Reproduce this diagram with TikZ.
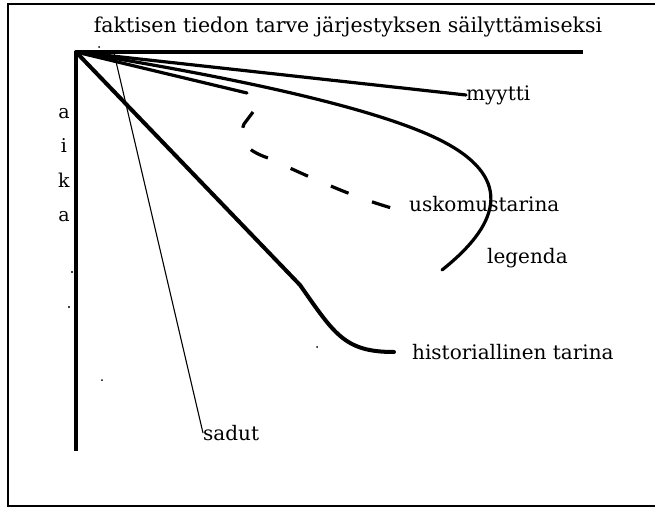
\documentclass[tikz,border=0pt]{standalone}
\usepackage{fontspec}
\setmainfont{DejaVu Serif}
\usetikzlibrary{positioning}

\begin{document}
\begin{tikzpicture}[
    x=1pt, y=-1pt,
    frame_line/.style={line width=2.2pt},
    axis_line/.style={line width=3.2pt},
    thick_curve/.style={line width=3.2pt, line cap=round},
    thin_curve/.style={line width=1.1pt},
    curve_label/.style={font=\fontsize{20}{24}\selectfont, inner sep=0pt, anchor=west},
    title_text/.style={font=\fontsize{20.5}{24}\selectfont, inner sep=0pt},
    aika_text/.style={font=\fontsize{19}{34.5}\selectfont, inner sep=0pt, align=center}
]
\useasboundingbox (0,0) rectangle (655,508);

\coordinate (origin) at (76,52);
\coordinate (xend) at (583,52);
\coordinate (yend) at (76,451);
\coordinate (sadut_top) at (114,53);
\coordinate (legenda_end) at (442,270);
\coordinate (usko_start) at (253,112);

\node[title_text] (title) at (348,27) {faktisen tiedon tarve järjestyksen säilyttämiseksi};
\node[aika_text] (aika) at (64,165) {a\\i\\k\\a};
\node[curve_label] (myytti) at (466,95) {myytti};
\node[curve_label] (usko) at (409,204) {uskomustarina};
\node[curve_label] (legenda) at (487,258) {legenda};
\node[curve_label] (hist) at (412,352) {historiallinen tarina};
\node[curve_label] (sadut) at (203,433) {sadut};

\draw[frame_line] (660,4) -- (8,4) -- (8,506) -- (660,506);
\draw[axis_line] (yend) -- (origin);
\draw[axis_line, line width=4.2pt] (origin) -- (xend);

\draw[thick_curve] (origin) -- (myytti.west);
\draw[thick_curve] (origin) .. controls (250,80) and (380,110) .. (440,140)
    .. controls (510,175) and (505,220) .. (legenda_end);
\draw[thick_curve] (origin) -- (247,93);
\draw[thick_curve, line cap=butt, dash pattern=on 19pt off 25pt] (usko_start)
    -- (244,124) .. controls (238,140) and (245,150) .. (268,158)
    .. controls (320,182) and (360,200) .. ([xshift=-5pt]usko.base west);
\draw[thick_curve, line width=4pt] (origin) -- (300,285)
    .. controls (335,335) and (345,352) .. ([xshift=-18pt]hist.west);
\draw[thin_curve] (sadut_top) -- (sadut.west);

\fill (99,47) circle (1pt);
\fill (72,272) circle (1.2pt);
\fill (69,307) circle (1.2pt);
\fill (317,347) circle (1pt);
\fill (102,380) circle (1pt);

\end{tikzpicture}
\end{document}
